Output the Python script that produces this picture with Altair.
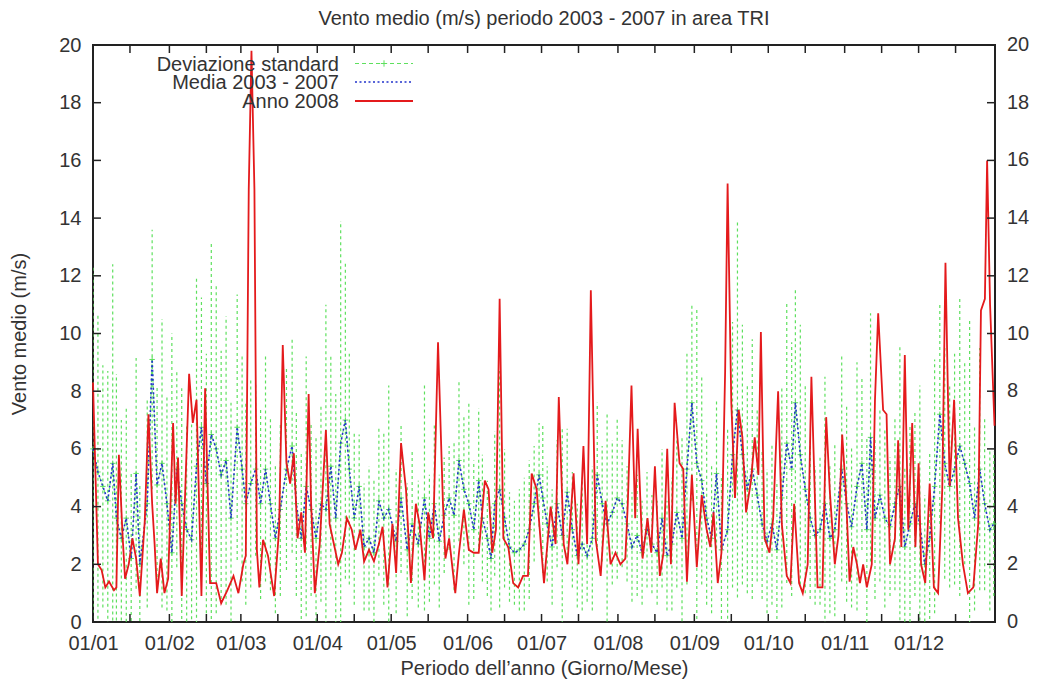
import altair as alt
import pandas as pd

# ---------------- data ----------------
month_start_days = [0, 31, 60, 91, 121, 152, 182, 213, 244, 274, 305, 335]
month_labels = ["01/01", "01/02", "01/03", "01/04", "01/05", "01/06",
                "01/07", "01/08", "01/09", "01/10", "01/11", "01/12"]
mid_month_days = [15, 46, 75, 106, 136, 167, 197, 228, 259, 289, 320, 350]
y_ticks = [0, 2, 4, 6, 8, 10, 12, 14, 16, 18, 20]

red_days = [0, 2, 3.5, 5, 6.5, 8.5, 9.5, 10.5, 12, 13, 14.5, 16, 17.5, 19, 21, 22.5, 24, 25, 26, 27.5,
            29, 30.5, 32.5, 33.5, 34.5, 36, 39, 40.5, 42, 44, 45.5, 47.5, 50, 52, 54.5, 57, 59, 61, 62,
            63.2, 64.3, 65.5, 66.5, 67.5, 69, 71, 73.5, 75.5, 77, 78.5, 80, 81.5, 83, 84.5, 86, 87.5,
            88.5, 90, 92, 94.5, 96, 98, 99.5, 101, 103, 105, 106.5, 108.5, 110, 112, 114, 116, 117.5,
            119.5, 121.5, 123, 125, 127, 129, 131, 132.5, 134.5, 136, 138, 140, 142, 143, 144.5, 147,
            148.5, 150.5, 152.5, 154.5, 156.5, 159, 160.5, 162, 163.5, 165, 166.5, 168.5, 170.5, 172.5,
            174.5, 176.5, 178, 180, 182, 183, 185.7, 187.7, 189, 191, 192.5, 195, 197, 199, 200.5, 202,
            204, 206, 208, 210, 212, 214, 216, 217, 218.5, 220, 221, 223, 225, 226.5, 228, 230, 231.5,
            233, 234.5, 236, 238, 239.5, 241, 243, 245, 247, 249, 250.5, 251.8, 253.5, 255, 256.5,
            257.5, 259, 260.5, 262, 263.5, 265, 267, 268.5, 270, 271, 272.5, 274.5, 276, 278, 279.5,
            281.5, 283, 284.5, 286.5, 288, 290, 291.5, 293, 294, 296, 297.5, 299, 301, 302.5, 304,
            305.5, 307, 308.5, 310, 311.2, 312.5, 314, 316, 317.3, 318.6, 320.6, 322, 323.4, 325.4,
            326.7, 328, 329.4, 330.8, 332.4, 333.7, 335, 336, 337.7, 339.5, 341.2, 342.9, 344.6, 345.9,
            347.6, 349.4, 351, 353, 355, 357.2, 359.2, 360.3, 361.9, 362.8, 364, 365.8]
red_vals = [8.3, 2.0, 1.8, 1.2, 1.4, 1.1, 1.2, 5.8, 3.0, 1.5, 2.0, 2.9, 2.2, 0.9, 3.5, 7.2, 4.1, 2.7, 1.0, 2.2,
            1.0, 1.5, 6.9, 4.1, 5.7, 0.9, 8.6, 6.9, 7.7, 0.9, 8.1, 1.35, 1.35, 0.65, 1.1, 1.6, 1.0, 2.0, 2.3,
            15.0, 19.8, 15.0, 2.5, 1.2, 2.85, 2.3, 0.9, 3.2, 9.6, 5.5, 4.8, 5.85, 2.9, 3.8, 2.4, 7.9,
            4.1, 1.0, 2.7, 6.65, 3.4, 2.6, 2.0, 2.4, 3.6, 3.2, 2.5, 3.2, 2.1, 2.5, 2.1, 2.7, 3.3,
            1.2, 3.4, 1.7, 6.2, 4.6, 1.35, 4.1, 3.4, 1.45, 3.8, 2.9, 9.7, 4.1, 2.2, 2.9, 1.0,
            2.4, 3.9, 2.5, 2.4, 2.4, 4.9, 4.6, 2.4, 3.2, 11.2, 2.9, 2.6, 1.35, 1.2,
            1.6, 1.6, 5.15, 4.6, 2.4, 1.35, 4.0, 2.7, 7.8, 2.7, 2.0, 5.15, 2.0, 6.1, 2.7, 11.5,
            2.85, 1.6, 4.2, 2.0, 2.4, 2.0, 2.2, 4.1, 8.2, 3.6, 6.7, 2.2, 3.6, 2.4, 5.4, 1.6, 2.4,
            6.0, 2.0, 7.6, 5.5, 5.3, 1.4, 5.1, 1.9, 4.4, 3.2, 2.6, 3.8, 1.35, 2.4, 8.7,
            15.2, 7.6, 4.3, 7.35, 6.4, 3.8, 4.9, 6.4, 5.1, 10.05, 2.9, 2.4, 3.6, 8.0, 3.4,
            1.6, 1.35, 4.1, 1.35, 1.0, 2.0, 8.5, 4.1, 1.2, 1.2, 7.1, 4.5, 2.0, 3.0, 6.5,
            4.5, 1.4, 2.6, 2.0, 1.35, 2.0, 1.2, 2.0, 7.7, 10.7, 7.35, 7.2, 2.0, 2.9,
            6.3, 2.6, 9.25, 3.2, 6.9, 2.6, 5.5, 2.0, 1.35, 4.8, 1.2, 1.0, 4.6, 12.45,
            4.7, 7.7, 3.6, 2.0, 1.0, 1.2, 3.4, 10.8, 11.2, 16.0, 11.0, 6.8]

mean_days = [0, 2, 4, 6, 8, 9.5, 11.5, 13.5, 15.5, 17.5, 19, 22, 24, 26, 28, 30, 32, 34, 36, 38, 40, 42,
             44, 46, 48, 50, 52, 54, 56, 58.5, 60.5, 62, 64, 66, 68, 70, 72, 74, 76, 78.5, 80.8, 82.5,
             84.5, 86.5, 88.5, 90.5, 92.5, 94.5, 96.5, 98.5, 100.5, 102.4, 104, 106, 108, 110, 112, 114,
             116, 118, 120, 123, 125, 127.5, 129.5, 132, 134.5, 136.5, 138.5, 140.5, 142.5, 144.5, 146.5,
             148.5, 150.5, 152.5, 154.5, 156.5, 158, 160, 161.5, 163, 165, 167, 169, 171, 173, 175, 177,
             179, 181, 182.5, 184.3, 186.3, 188.3, 190.4, 192.4, 194.5, 196.5, 198.5, 200.5, 202.6,
             204.6, 206.6, 208.6, 210.7, 212.7, 214.7, 216.7, 218.7, 220.8, 222.8, 224.8, 226.8, 228.9,
             230.9, 232.9, 234.9, 236.9, 239, 241, 243, 245, 247, 249, 251, 253, 255, 257.5, 259.5,
             261.5, 263.5, 265.5, 267.5, 269.5, 271.5, 273.5, 275.5, 277.5, 279.5, 281.5, 283.5, 285,
             287, 289, 291, 293, 295, 297, 299, 301, 303.8, 305.8, 307.8, 310, 312, 314, 315.5, 317.3,
             319.3, 321.3, 323.4, 325.4, 327.4, 329.4, 331.5, 333.5, 335.5, 337.5, 339.5, 341.5, 343.6,
             345.6, 347.6, 349.6, 351.7, 353.7, 355.7, 357.7, 359.8, 361.8, 363.9, 365.5]
mean_vals = [6.0, 5.2, 4.7, 4.2, 5.5, 3.6, 2.9, 3.6, 2.2, 5.15, 2.0, 4.1, 9.1, 4.75, 5.5, 4.1, 2.4, 5.3, 4.1,
             3.2, 2.85, 5.4, 6.75, 4.8, 6.5, 6.0, 5.1, 5.6, 3.6, 6.75, 5.3, 4.1, 4.8, 5.3, 4.1, 5.3, 4.1,
             2.9, 3.9, 5.3, 6.1, 4.1, 2.9, 4.7, 3.9, 2.9, 4.1, 3.9, 5.4, 3.6, 6.2, 7.0, 5.3, 3.6, 4.7,
             2.6, 2.9, 2.4, 4.2, 3.6, 3.9, 2.8, 4.3, 2.5, 3.4, 2.7, 4.3, 2.9, 4.1, 2.8, 3.7, 4.3, 3.7,
             5.6, 4.6, 4.1, 3.2, 4.9, 3.6, 2.9, 2.2, 4.1, 4.6, 3.6, 2.6, 2.4, 2.5, 2.7, 3.2, 4.1, 5.1,
             4.3, 3.4, 2.6, 4.1, 3.0, 4.5, 3.2, 2.3, 2.7, 2.3, 2.9, 5.1, 4.1, 3.4, 3.8, 4.3, 4.1, 3.4,
             2.6, 3.0, 2.4, 3.2, 2.7, 2.4, 3.6, 2.3, 2.7, 3.8, 2.9, 5.3, 7.6, 5.5, 4.9, 3.6, 2.9, 5.15,
             2.5, 3.2, 5.8, 7.35, 5.8, 4.6, 5.3, 4.4, 3.4, 2.8, 3.4, 2.5, 4.3, 6.2, 5.3, 7.6, 5.8, 4.6,
             3.6, 3.0, 3.2, 4.1, 2.9, 3.2, 5.3, 4.1, 3.3, 4.7, 5.5, 3.2, 6.4, 3.6, 4.4, 3.6, 3.3, 4.1,
             4.7, 2.6, 3.4, 4.1, 3.4, 2.0, 2.9, 4.7, 7.2, 5.5, 4.7, 5.3, 6.1, 5.5, 4.8, 3.6, 5.3, 4.1,
             3.2, 3.4]
sd_vals = [6.3, 5.5, 4.2, 4.5, 6.9, 5.0, 4.1, 3.8, 3.0, 4.0, 2.8, 3.6, 4.5, 3.4, 5.0, 3.7, 7.6, 3.4, 4.0,
           3.6, 4.0, 6.5, 4.5, 4.5, 6.6, 5.7, 4.3, 5.0, 4.0, 4.6, 3.9, 3.5, 3.6, 3.0, 3.3, 3.9, 3.0,
           2.6, 3.0, 3.5, 3.7, 3.2, 3.0, 4.5, 3.0, 3.5, 3.4, 7.1, 3.8, 4.3, 7.7, 5.5, 4.0, 3.0, 1.8,
           2.2, 2.5, 2.6, 2.6, 3.0, 4.3, 2.5, 2.6, 2.3, 2.6, 2.2, 3.9, 2.2, 2.8, 2.3, 2.0, 1.8, 2.6,
           2.8, 2.6, 3.5, 2.4, 2.5, 2.2, 2.0, 1.8, 2.5, 4.1, 2.4, 1.9, 1.8, 2.1, 2.3, 2.4, 2.0, 1.8,
           2.6, 2.0, 2.0, 2.2, 3.7, 2.2, 2.0, 1.8, 2.3, 1.6, 2.5, 2.5, 2.0, 3.8, 2.5, 2.8, 2.2, 2.0,
           1.9, 2.1, 1.8, 2.0, 1.7, 1.8, 2.4, 1.9, 2.3, 2.6, 3.5, 4.0, 3.4, 5.4, 3.6, 3.0, 2.6, 2.6,
           2.6, 3.5, 4.6, 6.5, 4.5, 3.6, 4.5, 3.0, 2.6, 2.5, 2.8, 2.4, 3.8, 4.85, 4.4, 3.9, 4.5, 3.6,
           2.8, 2.4, 2.6, 4.4, 2.6, 3.0, 3.9, 3.4, 2.8, 4.3, 3.0, 3.2, 4.3, 2.8, 3.0, 3.1, 2.4, 3.0,
           4.85, 2.8, 3.4, 3.2, 4.8, 2.4, 3.0, 4.4, 3.8, 4.0, 3.5, 4.0, 5.2, 3.5, 5.7, 3.2, 4.2, 3.0,
           2.8, 2.5]

title_text = "Vento medio (m/s) periodo 2003 - 2007 in area TRI"
x_title = "Periodo dell’anno (Giorno/Mese)"
y_title = "Vento medio (m/s)"
legend_labels = ["Deviazione standard", "Media 2003 - 2007", "Anno 2008"]

# ---------------- styling ----------------
FONT = "Liberation Sans"
TXT = "#333333"
FRAME = "#222222"
GREEN = "#5ee05e"
BLUE = "#2233cc"
RED = "#e41a1c"
W, H = 902, 577

x_scale = alt.Scale(domain=[0, 366], nice=False, zero=False)
y_scale = alt.Scale(domain=[0, 20], nice=False)

label_expr = ""
for d, lab in zip(month_start_days, month_labels):
    label_expr += f"datum.value == {d} ? '{lab}' : "
label_expr += "''"

x_axis = alt.Axis(values=month_start_days, labelExpr=label_expr, ticks=False, domain=False,
                  grid=False, labelFontSize=20, labelFont=FONT, labelColor=TXT, labelPadding=11,
                  labelFlush=False, labelOverlap=False, title=x_title, titleFontSize=20,
                  titleFont=FONT, titleColor=TXT, titleFontWeight="normal", titlePadding=5)
y_axis = alt.Axis(values=y_ticks, format="d", ticks=False, domain=False, grid=False,
                  labelFontSize=20, labelFont=FONT, labelColor=TXT, labelPadding=12,
                  title=y_title, titleFontSize=20, titleFont=FONT, titleColor=TXT,
                  titleFontWeight="normal", titlePadding=29)


def X(field):
    return alt.X(f"{field}:Q", scale=x_scale, axis=x_axis)


def Y(field):
    return alt.Y(f"{field}:Q", scale=y_scale, axis=y_axis)


stats = pd.DataFrame({"day": mean_days, "mean": mean_vals, "sd": sd_vals})
red = pd.DataFrame({"day": red_days, "v": red_vals})
xt = pd.DataFrame({"t": month_start_days + mid_month_days})
yt = pd.DataFrame({"v": y_ticks})
one = pd.DataFrame({"k": [0]})

bars = alt.Chart(stats).transform_calculate(
    lo="datum.mean - datum.sd", hi="datum.mean + datum.sd"
).mark_rule(color=GREEN, strokeDash=[3, 3], strokeWidth=1.2, clip=True).encode(
    x=X("day"), y=Y("lo"), y2="hi:Q")

gline = alt.Chart(stats).mark_line(color=GREEN, strokeDash=[4, 3], strokeWidth=1).encode(
    x=X("day"), y=Y("mean"))
gplus = alt.Chart(stats).mark_point(shape="M-1,0L1,0M0,-1L0,1", size=30, color=GREEN,
                                    strokeWidth=1, filled=False, opacity=1).encode(
    x=X("day"), y=Y("mean"))
bline = alt.Chart(stats).mark_line(color=BLUE, strokeDash=[2, 2.5], strokeWidth=1.6).encode(
    x=X("day"), y=Y("mean"))
rline = alt.Chart(red).mark_line(color=RED, strokeWidth=1.8).encode(x=X("day"), y=Y("v"))

tick_style = dict(color=FRAME, strokeWidth=1.5)
xt_bottom = alt.Chart(xt).mark_rule(**tick_style).encode(
    x=X("t"), y=alt.value(H), y2=alt.value(H - 8))
xt_top = alt.Chart(xt).mark_rule(**tick_style).encode(
    x=X("t"), y=alt.value(0), y2=alt.value(8))
yt_left = alt.Chart(yt).mark_rule(**tick_style).encode(
    y=Y("v"), x=alt.value(0), x2=alt.value(8))
yt_right = alt.Chart(yt).mark_rule(**tick_style).encode(
    y=Y("v"), x=alt.value(W), x2=alt.value(W - 8))
y_right_labels = alt.Chart(yt).mark_text(align="left", baseline="middle", font=FONT,
                                         fontSize=20, color=TXT).encode(
    y=Y("v"), x=alt.value(W + 12), text=alt.Text("v:Q", format="d"))

title = alt.Chart(one).mark_text(text=title_text, font=FONT, fontSize=20, color=TXT,
                                 align="center", baseline="middle").encode(
    x=alt.value(W / 2), y=alt.value(-26))

legend_rows = [19.5, 38, 57]
leg = []
for lab, yy in zip(legend_labels, legend_rows):
    leg.append(alt.Chart(one).mark_text(text=lab, font=FONT, fontSize=20, color=TXT,
                                        align="right", baseline="middle").encode(
        x=alt.value(246), y=alt.value(yy)))
leg.append(alt.Chart(one).mark_rule(color=GREEN, strokeDash=[4, 3], strokeWidth=1).encode(
    x=alt.value(262), x2=alt.value(320), y=alt.value(legend_rows[0] - 1)))
leg.append(alt.Chart(one).mark_point(shape="M-1,0L1,0M0,-1L0,1", size=40, color=GREEN,
                                     strokeWidth=1, filled=False, opacity=1).encode(
    x=alt.value(291), y=alt.value(legend_rows[0] - 1)))
leg.append(alt.Chart(one).mark_rule(color=BLUE, strokeDash=[2, 2.5], strokeWidth=1.6).encode(
    x=alt.value(262), x2=alt.value(320), y=alt.value(legend_rows[1] - 1)))
leg.append(alt.Chart(one).mark_rule(color=RED, strokeWidth=1.8).encode(
    x=alt.value(262), x2=alt.value(320), y=alt.value(legend_rows[2] - 1)))

chart = alt.layer(
    bars, gline, gplus, bline, rline, xt_bottom, xt_top, yt_left, yt_right,
    y_right_labels, title, *leg
).properties(
    width=W, height=H, autosize="none",
    padding={"left": 85, "top": 37, "right": 37, "bottom": 58},
    background="white",
).configure_view(stroke=FRAME, strokeWidth=2)

chart.save("out.html", embed_options={"renderer": "svg", "actions": False})
